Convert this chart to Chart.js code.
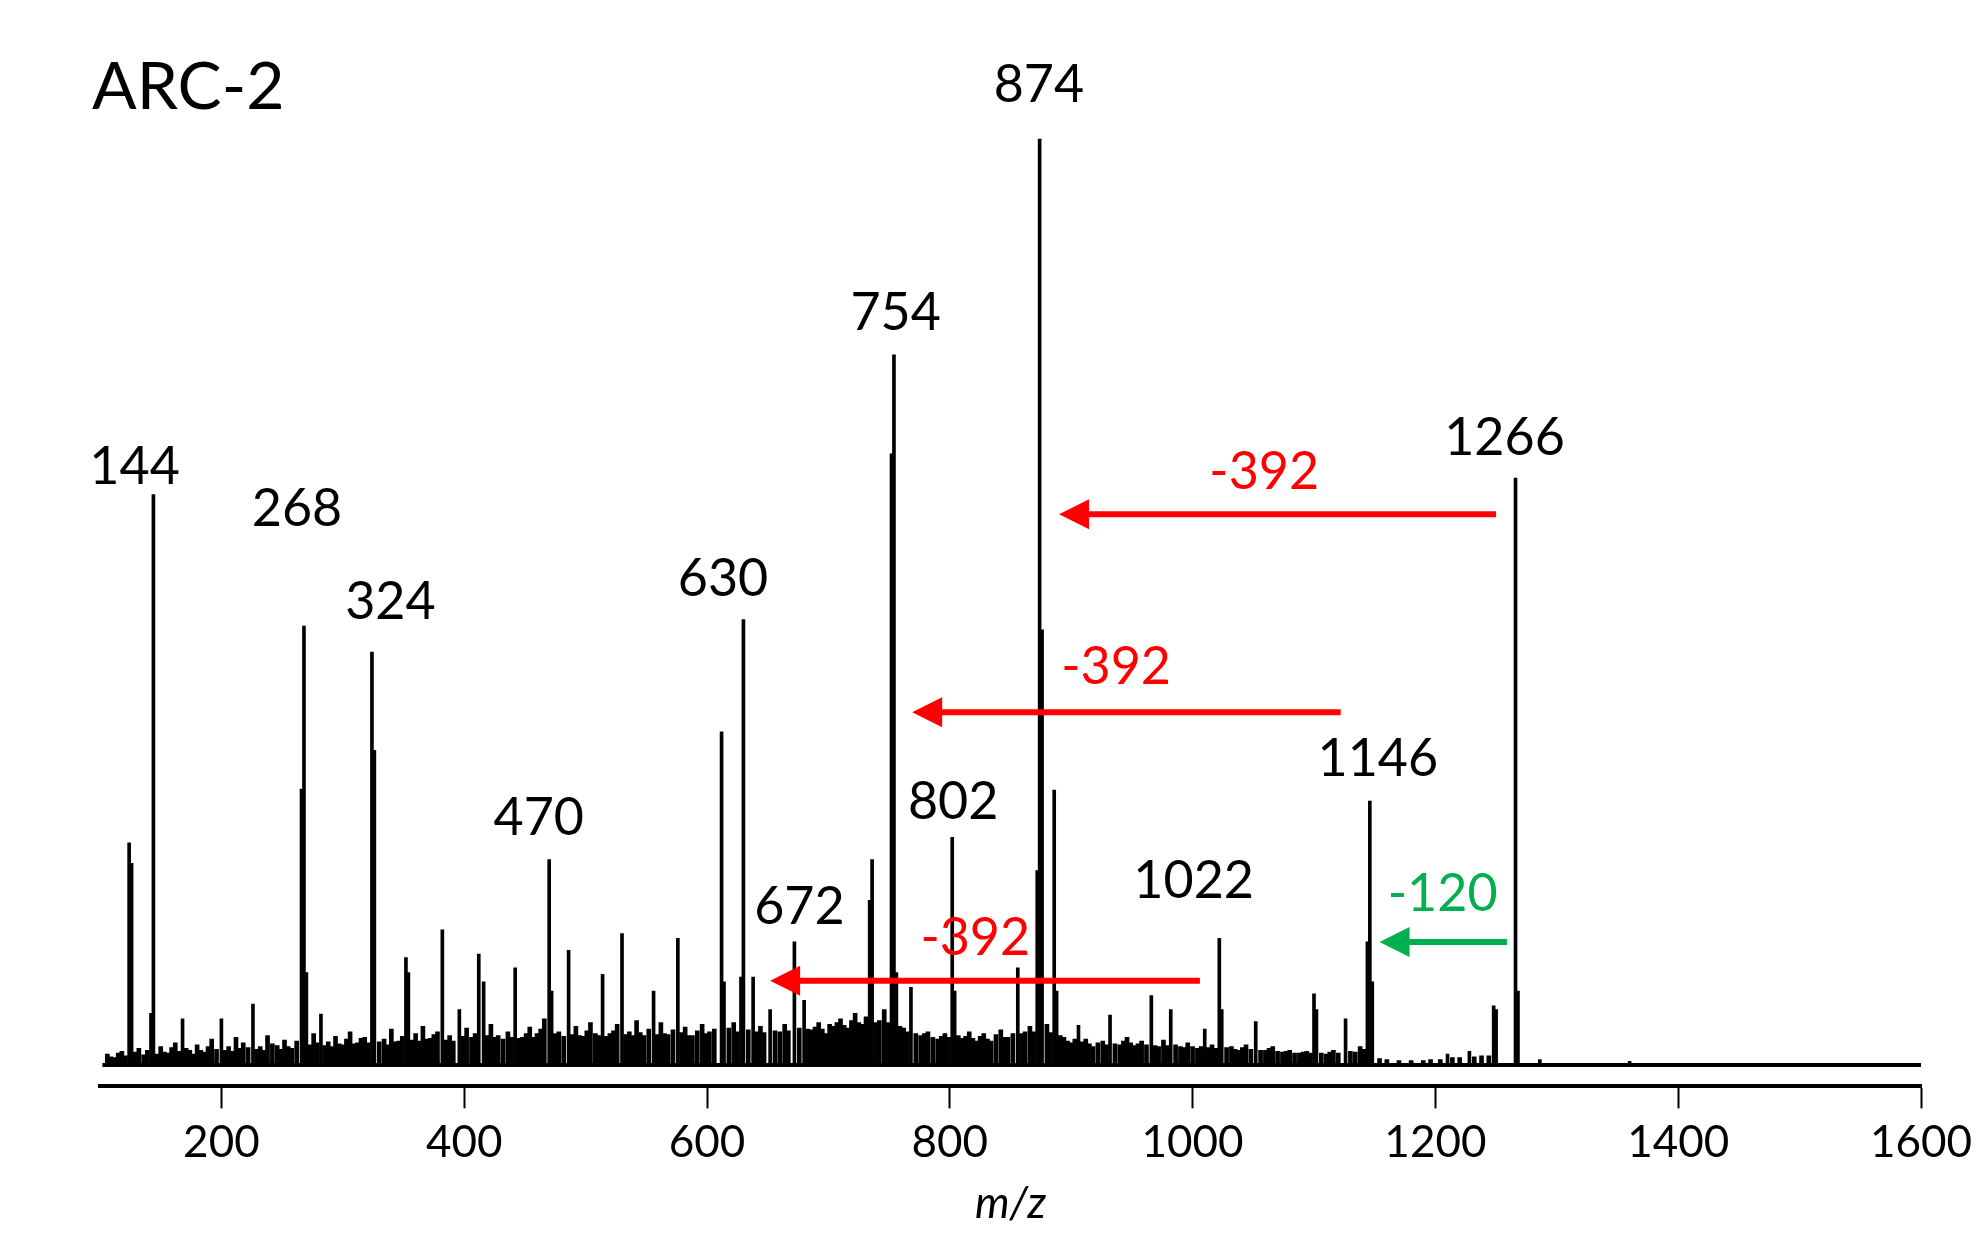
<!DOCTYPE html>
<html>
<head>
<meta charset="utf-8">
<script src="https://cdn.jsdelivr.net/npm/chart.js@4"></script>
<style>
  html, body { margin: 0; background: #fff; }
  #wrap { width: 1982px; height: 1244px; }
</style>
</head>
<body>
<div id="wrap"><canvas id="spec"></canvas></div>
<script>
// data //
const majorPeaks = [
  [124, 24], [126, 21.8], [142, 5.6], [144, 61.6], [168, 5], [200, 5], [226, 6.6],
  [266, 29.8], [268, 47.4], [270, 10], [282, 5.5], [324, 44.6], [326, 34], [352, 11.6], [354, 10],
  [382, 14.6], [396, 6], [412, 12], [416, 9], [442, 10.5], [470, 22.2], [472, 8], [486, 12.4],
  [514, 9.8], [530, 14.2], [556, 8], [576, 13.7], [612, 36], [614, 9], [628, 9.5], [630, 48.1],
  [638, 9.5], [652, 6], [672, 13.3], [680, 7], [734, 17.8], [736, 22.2], [752, 66], [754, 76.7],
  [756, 10], [768, 8.4], [802, 24.6], [804, 8], [856, 10.5], [872, 21], [874, 100], [876, 47],
  [886, 29.7], [888, 8], [906, 4.3], [932, 5.4], [966, 7.5], [982, 6], [1010, 3.9], [1022, 13.7],
  [1024, 6], [1052, 4.7], [1100, 7.7], [1102, 6], [1126, 5], [1144, 13.3], [1146, 28.5],
  [1148, 9], [1210, 1.2], [1228, 1.5], [1248, 6.4], [1250, 6], [1266, 63.4], [1268, 8], [1286, 0.6], [1360, 0.4]
];
// small background peaks
const noisePeaks = [
  [106, 1.2], [109, 0.9], [112, 0.8], [115, 1.3], [118, 1.5], [121, 1], [129, 1.4], [132, 1.8], [136, 1.1],
  [139, 1.6], [147, 1.2], [150, 2], [153, 1.4], [156, 1.3], [159, 1.9], [162, 2.4], [165, 1.5],
  [171, 1.8], [174, 1.6], [177, 1.2], [180, 2.2], [183, 1.6], [186, 1.4], [189, 2], [192, 2.8],
  [196, 1.7], [203, 1.6], [206, 2], [209, 1.5], [212, 3], [215, 1.8], [218, 2.4], [222, 1.9],
  [229, 1.7], [232, 2], [235, 1.6], [238, 3.2], [242, 2.3], [246, 2.1], [249, 1.7], [252, 2.7],
  [255, 2], [258, 1.8], [262, 2.6], [273, 2.2], [276, 3.4], [279, 2.4], [285, 2.1], [288, 2.5],
  [291, 2], [294, 3.1], [297, 2.3], [300, 2.2], [303, 2.8], [306, 3.6], [309, 2.3], [312, 2.4],
  [315, 2.9], [318, 3], [321, 2.4], [330, 2.5], [334, 2.8], [337, 2.2], [340, 3.9], [343, 2.5],
  [346, 2.6], [349, 3.1], [357, 2.7], [360, 3.4], [363, 2.6], [366, 4.2], [369, 2.8], [372, 2.9],
  [375, 3.3], [378, 3.6], [385, 2.7], [388, 3.2], [391, 2.6], [399, 3.1], [402, 4], [406, 3],
  [409, 3.4], [419, 3.2], [422, 4.4], [425, 3], [428, 3.2], [432, 2.8], [436, 3.6], [439, 3],
  [445, 2.9], [448, 3], [451, 3.4], [454, 4.1], [457, 3], [460, 3.4], [463, 3.9], [466, 5],
  [475, 3.4], [478, 3.6], [482, 3.1], [489, 3.3], [492, 4.2], [495, 3.2], [498, 3.1], [501, 3.7],
  [504, 4.6], [508, 3.4], [511, 3.2], [517, 3.1], [520, 3.4], [523, 3.7], [526, 4.4], [533, 3.3],
  [536, 3.6], [539, 3.2], [542, 4.8], [545, 3.5], [548, 3.2], [552, 3.9], [559, 3.3], [562, 4.6],
  [565, 3.4], [568, 3.3], [572, 3.8], [579, 3.5], [582, 4.1], [585, 3.2], [588, 3.2], [592, 3.7],
  [596, 4.4], [599, 3.4], [602, 3.6], [606, 3.9], [618, 4], [622, 4.6], [625, 3.6], [634, 3.8],
  [641, 3.6], [644, 4.2], [647, 3.5], [656, 3.7], [660, 3.6], [664, 4.4], [667, 3.7], [676, 4],
  [683, 3.9], [686, 3.8], [689, 4.1], [692, 4.6], [695, 3.9], [698, 3.4], [701, 4.4], [704, 4.2],
  [707, 4.6], [710, 5], [713, 4.3], [716, 4], [719, 4.8], [722, 5.6], [725, 4.6], [728, 4.4],
  [731, 5.2], [739, 4.6], [742, 4.8], [746, 6], [749, 4.6], [759, 4.2], [762, 4], [765, 3.6],
  [772, 3.4], [776, 3.2], [779, 3.4], [782, 3.6], [786, 3], [790, 2.8], [793, 3.1], [796, 3.4],
  [799, 3], [807, 3.2], [810, 2.9], [813, 3.1], [816, 3.6], [819, 2.9], [822, 2.6], [825, 3.1],
  [828, 3.4], [831, 2.8], [834, 2.6], [838, 3.3], [842, 3.8], [845, 3], [848, 3], [852, 3.4],
  [859, 3.4], [862, 3.6], [866, 4.2], [869, 3.6], [880, 4.4], [883, 3.5], [891, 3.2], [894, 3],
  [897, 2.6], [900, 2.4], [903, 2.8], [909, 2.5], [912, 2.8], [915, 2.3], [918, 2], [922, 2.4],
  [926, 2.6], [929, 2.2], [936, 2.3], [940, 2.2], [943, 2.6], [946, 3], [949, 2.4], [952, 2.1],
  [955, 2.3], [958, 2.6], [962, 2.2], [969, 2.1], [972, 2], [976, 2.7], [979, 2.1], [986, 2.2],
  [990, 2], [993, 1.9], [996, 2.4], [1000, 2], [1004, 1.8], [1007, 2], [1013, 1.9], [1016, 2.2],
  [1019, 1.8], [1028, 1.9], [1032, 2], [1035, 1.7], [1038, 1.6], [1041, 1.9], [1044, 2.2],
  [1048, 1.7], [1056, 1.6], [1060, 1.6], [1063, 1.8], [1066, 2], [1070, 1.5], [1074, 1.4],
  [1077, 1.5], [1080, 1.6], [1084, 1.3], [1088, 1.3], [1091, 1.4], [1094, 1.5], [1097, 1.3],
  [1106, 1.3], [1110, 1.2], [1113, 1.4], [1116, 1.6], [1120, 1.3], [1130, 1.5], [1134, 1.4],
  [1138, 2], [1141, 1.7], [1154, 0.7], [1160, 0.6], [1170, 0.5], [1180, 0.5], [1190, 0.5],
  [1196, 0.6], [1204, 0.6], [1214, 0.8], [1220, 0.8], [1232, 0.9], [1238, 1], [1244, 1]
];
const peakLabels = [
  ['144', 128.5, 64.6], ['268', 262.3, 60], ['324', 339.2, 50], ['470', 461.4, 26.7],
  ['630', 613.2, 52.5], ['672', 676.1, 17], ['754', 755.4, 81.2], ['802', 802.8, 28.4],
  ['874', 873.4, 105.8], ['1022', 1000.9, 19.9], ['1146', 1152.6, 33], ['1266', 1256.9, 67.7]
];
// [from, to, y, label, labelX, labelY, colour]
const lossArrows = [
  [1250, 890, 59.5, '-392', 1059, 64, '#ff0000'],
  [1122, 769, 38.1, '-392', 937, 43, '#ff0000'],
  [1006, 652, 9.1, '-392', 821, 13.7, '#ff0000'],
  [1259, 1154, 13.3, '-120', 1206, 18.4, '#00b050']
];
const xTicks = [200, 400, 600, 800, 1000, 1200, 1400, 1600];

const FONT = 'Lato, "Noto Sans", sans-serif';

const annotations = {
  id: 'annotations',
  afterDatasetsDraw(chart) {
    const ctx = chart.ctx;
    const xs = chart.scales.x, ys = chart.scales.y;
    ctx.save();
    ctx.textAlign = 'center';
    ctx.textBaseline = 'middle';
    ctx.fillStyle = '#000';
    ctx.font = '52px ' + FONT;
    peakLabels.forEach(p => ctx.fillText(p[0], xs.getPixelForValue(p[1]), ys.getPixelForValue(p[2])));

    lossArrows.forEach(a => {
      const x1 = xs.getPixelForValue(a[0]), x2 = xs.getPixelForValue(a[1]), y = ys.getPixelForValue(a[2]);
      ctx.strokeStyle = a[6];
      ctx.fillStyle = a[6];
      ctx.lineWidth = 6;
      ctx.beginPath();
      ctx.moveTo(x1, y);
      ctx.lineTo(x2 + 20, y);
      ctx.stroke();
      ctx.beginPath();
      ctx.moveTo(x2, y);
      ctx.lineTo(x2 + 30, y - 15);
      ctx.lineTo(x2 + 30, y + 15);
      ctx.closePath();
      ctx.fill();
      ctx.font = '52px ' + FONT;
      ctx.fillText(a[3], xs.getPixelForValue(a[4]), ys.getPixelForValue(a[5]));
    });

    ctx.fillStyle = '#000';
    ctx.textAlign = 'left';
    ctx.font = '66px ' + FONT;
    ctx.fillText('ARC-2', 92, 88);
    ctx.restore();
  }
};

new Chart(document.getElementById('spec'), {
  type: 'bar',
  data: {
    datasets: [
      {
        type: 'line',
        data: [{ x: 102, y: 0 }, { x: 1600, y: 0 }],
        borderColor: '#000',
        borderWidth: 4,
        pointRadius: 0
      },
      {
        data: noisePeaks.map(p => ({ x: p[0], y: p[1] })),
        backgroundColor: '#000',
        barThickness: 4,
        grouped: false
      },
      {
        data: majorPeaks.map(p => ({ x: p[0], y: p[1] })),
        backgroundColor: '#000',
        barThickness: 3,
        grouped: false
      }
    ]
  },
  options: {
    responsive: true,
    maintainAspectRatio: false,
    animation: false,
    layout: { padding: { left: 100, right: 61, top: 28, bottom: 10 } },
    plugins: { legend: { display: false }, tooltip: { enabled: false } },
    scales: {
      x: {
        type: 'linear',
        offset: false,
        min: 100,
        max: 1600,
        afterBuildTicks: axis => { axis.ticks = xTicks.map(v => ({ value: v })); },
        ticks: { color: '#000', font: { size: 44, family: FONT }, padding: 8, maxRotation: 0, callback: v => String(v) },
        grid: { display: true, offset: false, drawOnChartArea: false, drawTicks: true, tickLength: 22, tickWidth: 2, tickColor: '#000' },
        border: { display: true, color: '#000', width: 4 },
        title: { display: true, text: 'm/z', color: '#000', font: { size: 44, style: 'italic', family: FONT }, padding: { top: 0 } }
      },
      y: {
        display: false,
        min: -2.3,
        max: 112
      }
    }
  },
  plugins: [annotations]
});
</script>
</body>
</html>
